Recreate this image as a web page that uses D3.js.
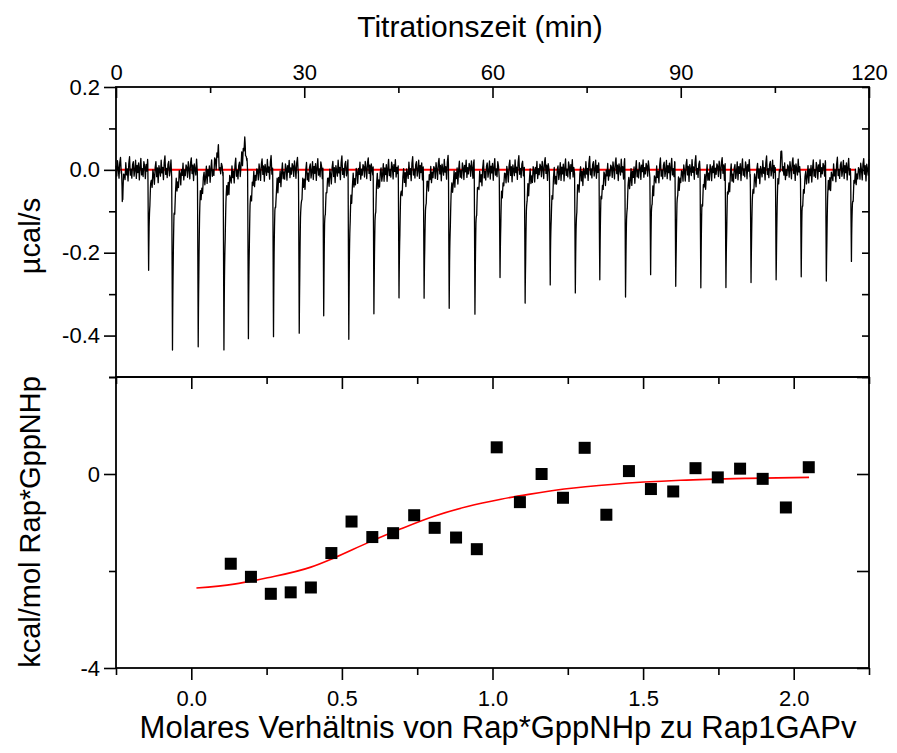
<!DOCTYPE html>
<html>
<head>
	<meta charset="UTF-8" />
	<title>ITC Rap*GppNHp / Rap1GAPv</title>
	<script src="https://d3js.org/d3.v7.min.js"></script>
	<style>
		body { margin: 0; background: #fff; }
		text { font-family: "Liberation Sans", Arial, sans-serif; fill: #000; }
	</style>
</head>
<body>
	<svg id="chart" width="897" height="753"></svg>

	<script type="text/javascript">
	// raw titration trace: injection times (min) and peak minima (ucal/s)
	var injTime = [1.0, 5.2, 9.0, 13.1, 17.2, 21.1, 25.1, 29.2, 33.1, 37.1, 41.1, 45.1, 49.1, 53.1, 57.2,
		61.2, 65.2, 69.2, 73.2, 77.1, 81.2, 85.2, 89.2, 93.2, 97.2, 101.2, 105.2, 109.2, 113.2, 117.2]
	var injDepth = [-0.076, -0.233, -0.446, -0.430, -0.451, -0.408, -0.390, -0.394, -0.352, -0.394, -0.358, -0.320, -0.331, -0.331, -0.353,
		-0.273, -0.331, -0.291, -0.313, -0.257, -0.312, -0.271, -0.280, -0.280, -0.286, -0.273, -0.255, -0.277, -0.265, -0.229]
	// upward drifts of the baseline (min, ucal/s)
	var bumpTime = [16.3, 20.6, 106.1]
	var bumpHeight = [0.04, 0.07, 0.055]
	// baseline noise (ucal/s), one value every 0.12 min, read as a typical wiggle
	var noise = [0.010, -0.015, 0.022, 0.005, -0.020, 0.018, 0.030, -0.008, 0.012, -0.025, 0.015, 0.002, -0.012, 0.026,
		-0.005, 0.008, -0.022, 0.019, 0.035, -0.010, 0.004, -0.018, 0.014, 0.021, -0.014, 0.000, 0.024, -0.020,
		0.011, -0.006, 0.017, -0.024, 0.007, 0.028, -0.012, 0.003, -0.016, 0.020, 0.009, -0.021, 0.013, -0.003,
		0.025, -0.017, 0.006, -0.009, 0.016]
	var baseStart = 0.1, baseEnd = 117.8

	// integrated heats
	var ratio = [0.131, 0.198, 0.264, 0.330, 0.397, 0.465, 0.532, 0.601, 0.670, 0.740, 0.808, 0.879, 0.948, 1.014,
		1.091, 1.163, 1.234, 1.306, 1.378, 1.453, 1.526, 1.600, 1.674, 1.748, 1.822, 1.897, 1.974, 2.050]
	var heat = [-1.85, -2.12, -2.47, -2.44, -2.34, -1.63, -0.98, -1.30, -1.22, -0.85, -1.11, -1.31, -1.55, 0.55,
		-0.58, 0.00, -0.49, 0.54, -0.84, 0.06, -0.31, -0.36, 0.12, -0.07, 0.11, -0.10, -0.69, 0.14]
	// fitted binding curve
	var fitRatio = [0.017, 0.142, 0.253, 0.397, 0.474, 0.585, 0.696, 0.806, 0.917, 1.028, 1.12, 1.238, 1.404, 1.625, 1.847, 2.051]
	var fitHeat = [-2.35, -2.27, -2.14, -1.92, -1.73, -1.42, -1.13, -0.87, -0.67, -0.52, -0.42, -0.31, -0.21, -0.13, -0.09, -0.07]

	// tick values
	var timeMajor = [0, 30, 60, 90, 120], timeMinor = [15, 45, 75, 105]
	var powMajor = [0.2, 0.0, -0.2, -0.4], powMinor = [0.1, -0.1, -0.3, -0.5]
	var ratioMajor = [0.0, 0.5, 1.0, 1.5, 2.0], ratioMinor = [-0.25, 0.25, 0.75, 1.25, 1.75, 2.25]
	var heatMajor = [0, -4], heatMinor = [2, -2]

	var left = 116, right = 869
	var top1 = 87, bot1 = 377, top2 = 377, bot2 = 668

	var tx = d3.scaleLinear().domain([0, 120]).range([left, right])
	var ty = d3.scaleLinear().domain([-0.5, 0.2]).range([bot1, top1])
	var rx = d3.scaleLinear().domain([-0.25, 2.25]).range([left, right])
	var hy = d3.scaleLinear().domain([-4, 2]).range([bot2, top2])

	var svg = d3.select("#chart")

	// build the trace from the injections
	function noiseAt(t) {
		var p = t / 0.12, i = Math.floor(p), f = p - i
		var a = noise[i % noise.length], b = noise[(i + 1) % noise.length]
		return a + (b - a) * f
	}
	function signal(t) {
		var v = noiseAt(t)
		injTime.forEach(function(ti, k) {
			var d = injDepth[k], dt = t - ti
			if (dt >= -0.12 && dt < 0) v += d * (1 + dt / 0.12)
			else if (dt >= 0 && dt < 3.8) v += d * (0.74 * Math.exp(-dt / 0.12) + 0.26 * Math.exp(-dt / 0.65))
		})
		bumpTime.forEach(function(bt, k) {
			var dt = t - bt
			if (dt < 0 && dt > -0.8) v += bumpHeight[k] * (1 + dt / 0.8)
			else if (dt >= 0 && dt < 0.25) v += bumpHeight[k] * (1 - dt / 0.25)
		})
		return v
	}
	var times = d3.range(0, 120.001, 0.03).concat(injTime).sort(d3.ascending)
	var trace = times.map(function(t) { return [t, signal(t)] })

	function fmt1(d) { return d.toFixed(1) }

	function styleAxis(g) {
		g.select(".domain").remove()
		g.selectAll(".tick line").attr("stroke", "#000").attr("stroke-width", 1.6)
		g.selectAll("text").style("font-size", "22px").attr("fill", "#000")
	}

	// ---- top panel ----
	svg.append("g").attr("transform", "translate(0," + top1 + ")")
		.call(d3.axisTop(tx).tickValues(timeMajor).tickSize(-11).tickPadding(7).tickFormat(d3.format("d")))
		.call(styleAxis)
	svg.append("g").attr("transform", "translate(0," + top1 + ")")
		.call(d3.axisTop(tx).tickValues(timeMinor).tickSize(-6).tickFormat(""))
		.call(styleAxis)
	svg.append("g").attr("transform", "translate(" + left + ",0)")
		.call(d3.axisLeft(ty).tickValues(powMajor).tickSize(12).tickPadding(4).tickFormat(fmt1))
		.call(styleAxis)
	svg.append("g").attr("transform", "translate(" + left + ",0)")
		.call(d3.axisLeft(ty).tickValues(powMinor).tickSize(7).tickFormat(""))
		.call(styleAxis)
	svg.append("g").attr("transform", "translate(" + right + ",0)")
		.call(d3.axisRight(ty).tickValues(powMajor.concat(powMinor)).tickSize(-7).tickFormat(""))
		.call(styleAxis)

	svg.append("line")
		.attr("x1", tx(baseStart)).attr("x2", tx(baseEnd))
		.attr("y1", ty(0)).attr("y2", ty(0))
		.attr("stroke", "#ff0000").attr("stroke-width", 2)

	svg.append("path")
		.datum(trace)
		.attr("fill", "none")
		.attr("stroke", "#000")
		.attr("stroke-width", 1.3)
		.attr("stroke-linejoin", "round")
		.attr("d", d3.line().x(d => tx(d[0])).y(d => ty(d[1])))

	svg.append("rect")
		.attr("x", left).attr("y", top1)
		.attr("width", right - left).attr("height", bot1 - top1)
		.attr("fill", "none").attr("stroke", "#000").attr("stroke-width", 1.8)

	// ---- bottom panel ----
	svg.append("g").attr("transform", "translate(0," + top2 + ")")
		.call(d3.axisTop(rx).tickValues(ratioMajor).tickSize(-12).tickFormat(""))
		.call(styleAxis)
	svg.append("g").attr("transform", "translate(0," + top2 + ")")
		.call(d3.axisTop(rx).tickValues(ratioMinor).tickSize(-7).tickFormat(""))
		.call(styleAxis)
	svg.append("g").attr("transform", "translate(0," + bot2 + ")")
		.call(d3.axisBottom(rx).tickValues(ratioMajor).tickSize(12).tickPadding(10).tickFormat(fmt1))
		.call(styleAxis)
	svg.append("g").attr("transform", "translate(0," + bot2 + ")")
		.call(d3.axisBottom(rx).tickValues(ratioMinor).tickSize(7).tickFormat(""))
		.call(styleAxis)
	svg.append("g").attr("transform", "translate(" + left + ",0)")
		.call(d3.axisLeft(hy).tickValues(heatMajor).tickSize(12).tickPadding(4).tickFormat(d3.format("d")))
		.call(styleAxis)
	svg.append("g").attr("transform", "translate(" + left + ",0)")
		.call(d3.axisLeft(hy).tickValues(heatMinor).tickSize(7).tickFormat(""))
		.call(styleAxis)
	svg.append("g").attr("transform", "translate(" + right + ",0)")
		.call(d3.axisRight(hy).tickValues(heatMajor.concat(heatMinor)).tickSize(-12).tickFormat(""))
		.call(styleAxis)
	// hyphen minus like the original
	svg.selectAll(".tick text").text(function() { return d3.select(this).text().replace("\u2212", "-") })

	svg.append("path")
		.datum(d3.zip(fitRatio, fitHeat))
		.attr("fill", "none")
		.attr("stroke", "#ff0000")
		.attr("stroke-width", 1.6)
		.attr("d", d3.line().x(d => rx(d[0])).y(d => hy(d[1])).curve(d3.curveMonotoneX))

	svg.selectAll("rect.pt")
		.data(d3.zip(ratio, heat))
		.enter()
		.append("rect")
		.attr("class", "pt")
		.attr("x", d => rx(d[0]) - 6)
		.attr("y", d => hy(d[1]) - 6)
		.attr("width", 12).attr("height", 12)
		.attr("fill", "#000")

	svg.append("rect")
		.attr("x", left).attr("y", top2)
		.attr("width", right - left).attr("height", bot2 - top2)
		.attr("fill", "none").attr("stroke", "#000").attr("stroke-width", 1.8)

	// ---- titles ----
	svg.append("text").attr("x", 480).attr("y", 37)
		.attr("text-anchor", "middle").style("font-size", "30px")
		.text("Titrationszeit (min)")
	svg.append("text").attr("x", 498).attr("y", 738)
		.attr("text-anchor", "middle").style("font-size", "31px")
		.text("Molares Verhältnis von Rap*GppNHp zu Rap1GAPv")
	svg.append("text").attr("transform", "translate(40,236) rotate(-90)")
		.attr("text-anchor", "middle").style("font-size", "29px")
		.text("µcal/s")
	svg.append("text").attr("transform", "translate(40,522) rotate(-90)")
		.attr("text-anchor", "middle").style("font-size", "29px")
		.text("kcal/mol Rap*GppNHp")
	</script>
</body>
</html>
